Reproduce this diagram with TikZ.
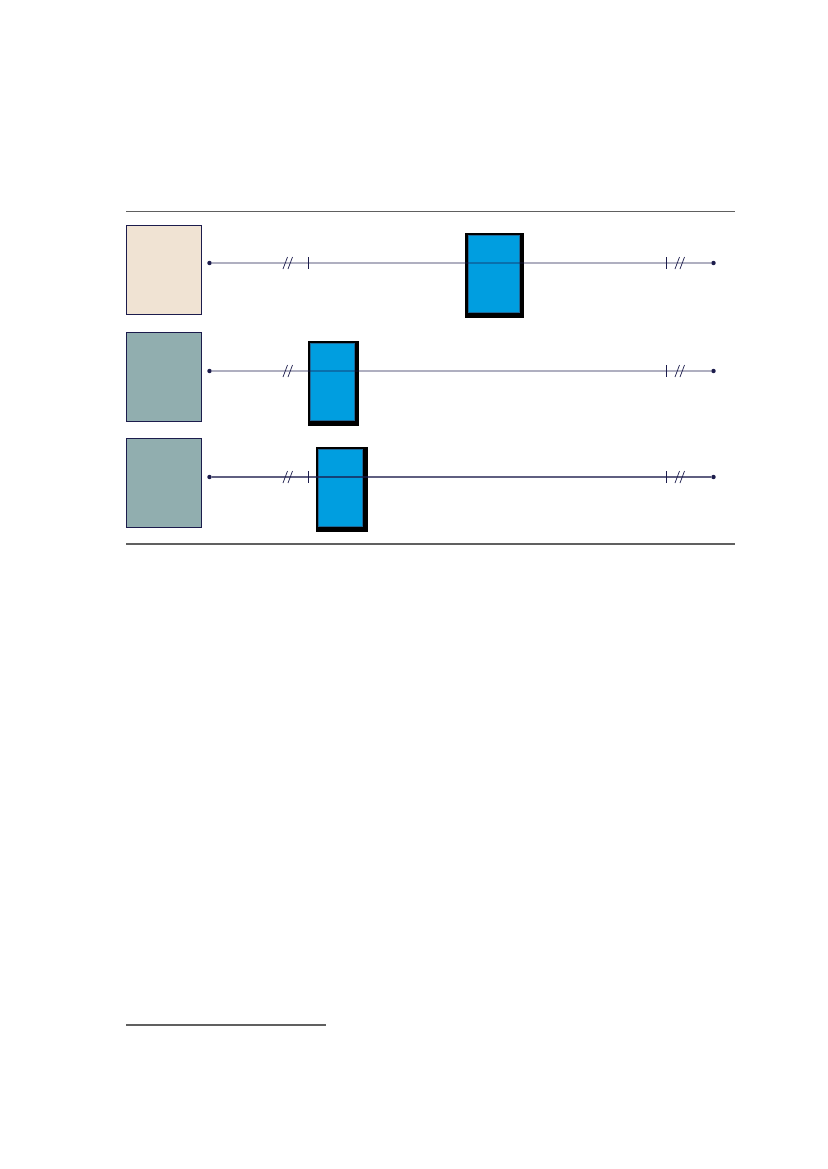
\documentclass[tikz,border=0pt]{standalone}
\begin{document}
\begin{tikzpicture}[x=0.72pt,y=-0.72pt,
  navy/.style={draw=navyc},
  leftbox/.style={draw=navyc,line width=0.7pt,anchor=north west,inner sep=0pt,minimum width=75*0.72pt,minimum height=89*0.72pt},
  shadowbox/.style={fill=black,draw=none,anchor=north west,inner sep=0pt},
  bluebox/.style={fill=blueC,draw=blueedge,line width=0.6pt,anchor=north west,inner sep=0pt},
  dotc/.style={circle,fill=navyc,inner sep=0pt,minimum size=3.2pt},
  wire/.style={draw=navyc,line width=1.1pt},
  tickmark/.style={draw=navyc,line width=0.8pt},
  rule/.style={draw=rulec,line width=0.8pt}]
\definecolor{navyc}{HTML}{1C1C4C}
\definecolor{blueC}{HTML}{009EE0}
\definecolor{blueedge}{HTML}{1E6A9A}
\definecolor{beige}{HTML}{F0E3D3}
\definecolor{slate}{HTML}{91AEAF}
\definecolor{rulec}{HTML}{606060}
\useasboundingbox (0,0) rectangle (827,1169);
\fill[white] (0,0) rectangle (827,1169);
% rules
\coordinate (r1a) at (126,211.5); \coordinate (r1b) at (735,211.5);
\coordinate (r2a) at (126,544); \coordinate (r2b) at (735,544);
\coordinate (fa) at (126,1025); \coordinate (fb) at (326,1025);
\draw[rule] (r1a) -- (r1b);
\draw[rule] (r2a) -- (r2b);
\draw[rule] (fa) -- (fb);
% left boxes
\node[leftbox,fill=beige] (L1) at (126,225) {};
\node[leftbox,fill=slate] (L2) at (126,331.5) {};
\node[leftbox,fill=slate] (L3) at (126,437.5) {};
% blue boxes with shadows
\node[shadowbox,minimum width=59*0.72pt,minimum height=85*0.72pt] (S1) at (465,233) {};
\node[bluebox,minimum width=51*0.72pt,minimum height=77*0.72pt] (B1) at (467.5,235) {};
\node[shadowbox,minimum width=51*0.72pt,minimum height=85*0.72pt] (S2) at (308,341) {};
\node[bluebox,minimum width=44*0.72pt,minimum height=77*0.72pt] (B2) at (310,343) {};
\node[shadowbox,minimum width=52*0.72pt,minimum height=85*0.72pt] (S3) at (316,447) {};
\node[bluebox,minimum width=44*0.72pt,minimum height=77*0.72pt] (B3) at (318,449) {};
% end dots
\node[dotc] (D1a) at (209.5,263) {}; \node[dotc] (D1b) at (713.5,263) {};
\node[dotc] (D2a) at (209.5,371) {}; \node[dotc] (D2b) at (713.5,371) {};
\node[dotc] (D3a) at (209.5,477) {}; \node[dotc] (D3b) at (713.5,477) {};
% wires
\draw[wire,draw opacity=0.35] (D1a) -- (D1b);
\draw[wire,draw opacity=0.35] (D2a) -- (D2b);
\draw[wire,draw opacity=0.7] (D3a) -- (D3b);
% ticks and breaks
\foreach \yy/\lt in {263/1,371/0,477/1}{
  \ifnum\lt=1 \draw[tickmark] (308.5,\yy-6) -- (308.5,\yy+6);\fi
  \draw[tickmark,line width=0.5pt] (283,\yy+6) -- (287.5,\yy-6);
  \draw[tickmark,line width=0.5pt] (288,\yy+6) -- (292.5,\yy-6);
  \draw[tickmark] (666.5,\yy-6) -- (666.5,\yy+6);
  \draw[tickmark,line width=0.5pt] (675,\yy+6) -- (679.5,\yy-6);
  \draw[tickmark,line width=0.5pt] (680,\yy+6) -- (684.5,\yy-6);
}
\end{tikzpicture}
\end{document}
